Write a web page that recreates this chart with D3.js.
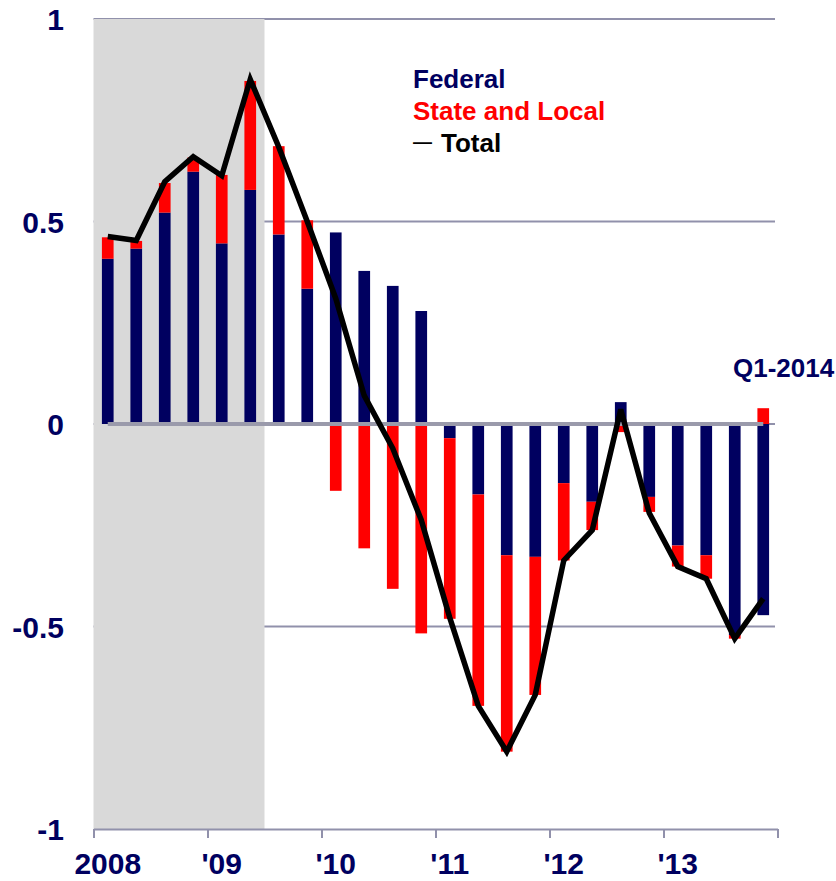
<!doctype html>
<html lang=en>
<head>
  <meta charset="utf-8">
  <title>Government contribution</title>
  <style>
body { margin: 0; background: #fff; }
svg text { font-family: "Liberation Sans", Arial, sans-serif; font-weight: bold; }
  </style>
</head>
<body>
<div id=content></div>
<script src="https://cdn.jsdelivr.net/npm/d3@7"></script>
<script>

  // quarters 2008Q1 .. 2013Q4
  var quarters = ["2008Q1","2008Q2","2008Q3","2008Q4","2009Q1","2009Q2","2009Q3","2009Q4",
                  "2010Q1","2010Q2","2010Q3","2010Q4","2011Q1","2011Q2","2011Q3","2011Q4",
                  "2012Q1","2012Q2","2012Q3","2012Q4","2013Q1","2013Q2","2013Q3","2013Q4"]

  var federal = [0.408, 0.433, 0.522, 0.623, 0.446, 0.578, 0.468, 0.334,
                 0.473, 0.378, 0.341, 0.279, -0.035, -0.174, -0.324, -0.328,
                 -0.146, -0.192, 0.054, -0.180, -0.300, -0.324, -0.521, -0.472]

  var stateLocal = [0.053, 0.019, 0.073, 0.035, 0.169, 0.269, 0.218, 0.169,
                    -0.165, -0.307, -0.407, -0.517, -0.446, -0.522, -0.485, -0.341,
                    -0.191, -0.070, -0.020, -0.037, -0.052, -0.058, -0.009, 0.039]

  var total = [0.463, 0.453, 0.598, 0.660, 0.613, 0.851, 0.684, 0.500,
               0.310, 0.070, -0.060, -0.237, -0.478, -0.696, -0.809, -0.669,
               -0.337, -0.262, 0.036, -0.220, -0.352, -0.382, -0.530, -0.431]

  var yearLabels = ["2008", "'09", "'10", "'11", "'12", "'13"]
  var yTicks = [-1, -0.5, 0, 0.5, 1]
  var recession = ["2008Q1", "2009Q2"]

  var navy = "#000060", red = "#ff0000", grid = "#9191ab"

  var W = 836, H = 881
  var svg = d3.select("#content").append("svg")
      .attr("width", W).attr("height", H)

  var x = d3.scaleBand()
      .domain(quarters)
      .range([93.5, 777.5])
      .paddingInner(0.59)
      .paddingOuter(0.295)
  var step = x.step()
  var y = d3.scaleLinear().domain([-1, 1]).range([829, 19])

  var rows = quarters.map((q, i) => ({q: q, federal: federal[i], state: stateLocal[i]}))
  var series = d3.stack()
      .keys(["federal", "state"])
      .offset(d3.stackOffsetDiverging)(rows)

  // gridlines
  svg.append("g").selectAll("line")
    .data(yTicks.filter(d => d > -1))
    .join("line")
      .attr("x1", 93.5).attr("x2", 775)
      .attr("y1", d => y(d)).attr("y2", d => y(d))
      .attr("stroke", grid).attr("stroke-width", 2)

  // recession shading
  svg.append("rect")
      .attr("x", x(recession[0]) - x.paddingOuter() * step)
      .attr("y", y(1))
      .attr("width", (quarters.indexOf(recession[1]) - quarters.indexOf(recession[0]) + 1) * step)
      .attr("height", y(-1) - y(1))
      .attr("fill", "#d9d9d9")

  // x axis
  var xq = d3.scaleLinear().domain([0, 24]).range([93.5, 777.5])
  var xAxis = svg.append("g")
      .attr("transform", "translate(0," + y(-1) + ")")
      .call(d3.axisBottom(xq).tickValues(d3.range(0, 25, 4)).tickSize(9).tickSizeOuter(0).tickFormat(""))
  xAxis.select(".domain").attr("stroke", grid).attr("stroke-width", 2)
  xAxis.selectAll(".tick line").attr("stroke", grid).attr("stroke-width", 2)

  svg.append("g").selectAll("text")
    .data(yearLabels)
    .join("text")
      .attr("x", (d, i) => x(quarters[i * 4]) + x.bandwidth() / 2)
      .attr("y", 874)
      .attr("text-anchor", "middle")
      .attr("font-size", 30)
      .attr("fill", navy)
      .text(d => d)

  // y labels
  svg.append("g").selectAll("text")
    .data(yTicks)
    .join("text")
      .attr("x", 64)
      .attr("y", d => y(d) + 11)
      .attr("text-anchor", "end")
      .attr("font-size", 30)
      .attr("fill", navy)
      .text(d => d)

  // bars
  svg.append("g").selectAll("g")
    .data(series)
    .join("g")
      .attr("fill", d => d.key == "federal" ? navy : red)
    .selectAll("rect")
    .data(d => d)
    .join("rect")
      .attr("x", d => x(d.data.q))
      .attr("width", x.bandwidth())
      .attr("y", d => y(Math.max(d[0], d[1])))
      .attr("height", d => Math.abs(y(d[0]) - y(d[1])))

  // zero line
  svg.append("line")
      .attr("x1", x(quarters[0]) + x.bandwidth() / 2)
      .attr("x2", x(quarters[quarters.length - 1]) + x.bandwidth() / 2)
      .attr("y1", y(0)).attr("y2", y(0))
      .attr("stroke", "#9a9aab").attr("stroke-width", 4)

  // total line
  var line = d3.line()
      .x((d, i) => x(quarters[i]) + x.bandwidth() / 2)
      .y(d => y(d))
  svg.append("path")
      .attr("d", line(total))
      .attr("fill", "none")
      .attr("stroke", "#000")
      .attr("stroke-width", 5.5)

  // legend
  var lg = svg.append("g").attr("font-size", 26)
  lg.append("text").attr("x", 413).attr("y", 88).attr("fill", navy).text("Federal")
  lg.append("text").attr("x", 413).attr("y", 120).attr("fill", red).text("State and Local")
  var t = lg.append("text").attr("x", 413).attr("y", 152).attr("fill", "#000")
  t.append("tspan").attr("font-size", 19).attr("dy", -4).text("\u2014")
  t.append("tspan").attr("dx", 9).attr("dy", 4).text("Total")

  svg.append("text")
      .attr("x", 733).attr("y", 377)
      .attr("font-size", 26)
      .attr("fill", navy)
      .text("Q1-2014")

</script>
</body>
</html>
